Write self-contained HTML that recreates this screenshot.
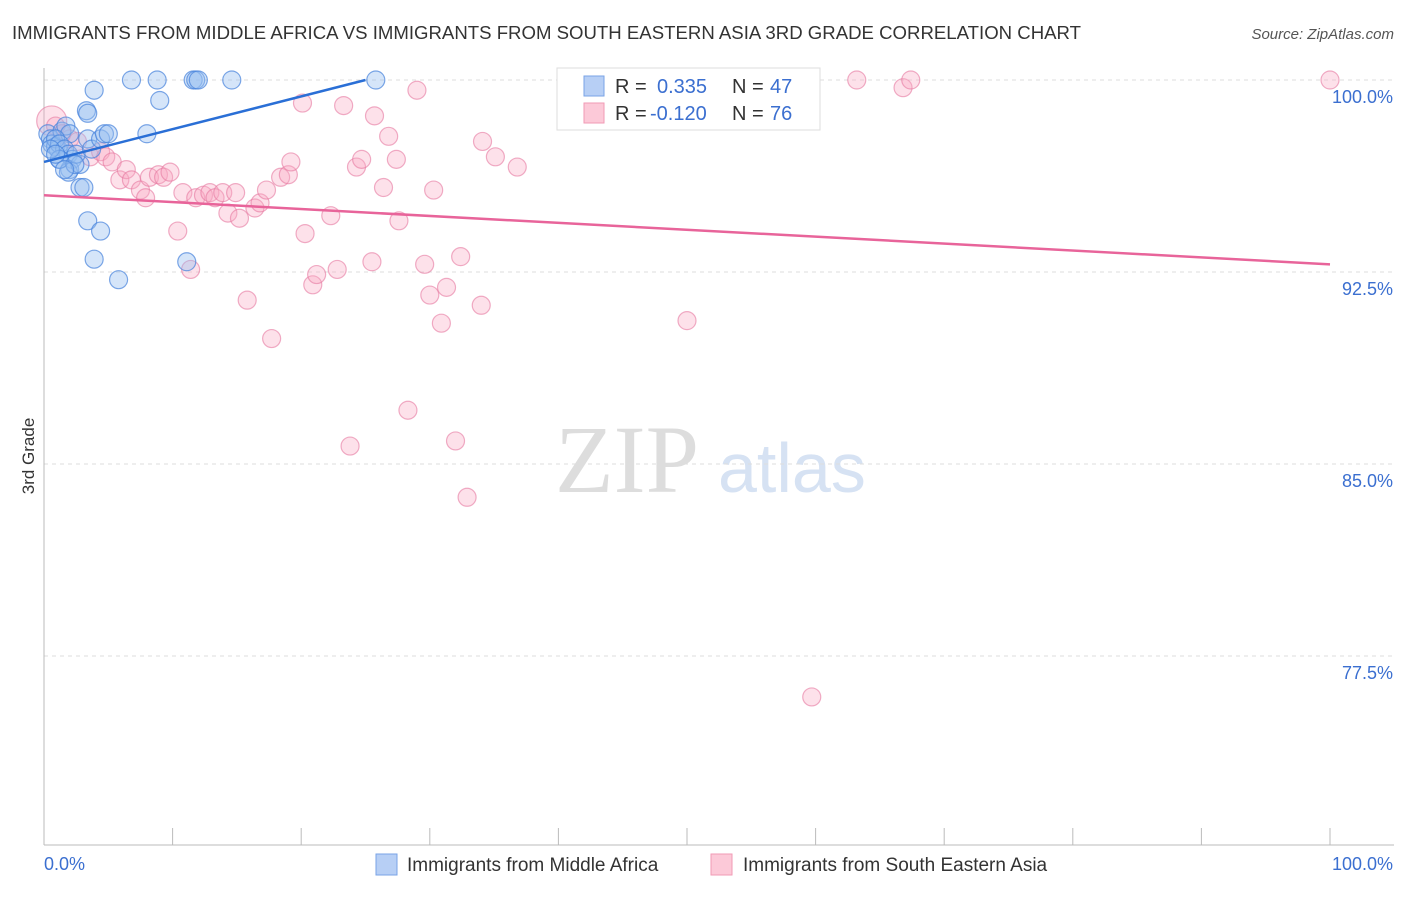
<!DOCTYPE html>
<html><head><meta charset="utf-8"><style>
body{margin:0;background:#fff;font-family:"Liberation Sans",sans-serif}
#wrap{position:relative;width:1406px;height:892px}
</style></head><body>
<div id="wrap">
<svg id="svg" width="1406" height="892">
<text x="12" y="39" font-size="18" fill="#333" textLength="1069" lengthAdjust="spacingAndGlyphs">IMMIGRANTS FROM MIDDLE AFRICA VS IMMIGRANTS FROM SOUTH EASTERN ASIA 3RD GRADE CORRELATION CHART</text>
<text x="1394" y="39" font-size="15" fill="#555" font-style="italic" text-anchor="end">Source: ZipAtlas.com</text>
<text x="34" y="456" font-size="17" fill="#333" transform="rotate(-90 34 456)" text-anchor="middle">3rd Grade</text>
<text x="555" y="492" font-size="96" fill="#ddd" font-family="Liberation Serif">ZIP</text>
<text x="718" y="492" font-size="70" fill="#d6e2f3">atlas</text>
<g id="grid"></g><g id="pts"></g><g id="lines"></g>
<g>
<rect x="557" y="68" width="263" height="62" fill="#fff" stroke="#ddd"/>
<rect x="584" y="76" width="20" height="20" fill="#b7cff5" stroke="#7aa3e6"/>
<rect x="584" y="103" width="20" height="20" fill="#fcc9d8" stroke="#f19ab5"/>
<text x="615" y="93" font-size="20" fill="#333">R = </text><text x="657" y="93" font-size="20" fill="#3b6fd0">0.335</text>
<text x="732" y="93" font-size="20" fill="#333">N = </text><text x="770" y="93" font-size="20" fill="#3b6fd0">47</text>
<text x="615" y="120" font-size="20" fill="#333">R = </text><text x="650" y="120" font-size="20" fill="#3b6fd0">-0.120</text>
<text x="732" y="120" font-size="20" fill="#333">N = </text><text x="770" y="120" font-size="20" fill="#3b6fd0">76</text>
</g>
<g>
<rect x="376" y="854" width="21" height="21" fill="#b7cff5" stroke="#7aa3e6"/>
<text x="407" y="871" font-size="19" fill="#333">Immigrants from Middle Africa</text>
<rect x="711" y="854" width="21" height="21" fill="#fcc9d8" stroke="#f19ab5"/>
<text x="743" y="871" font-size="19" fill="#333">Immigrants from South Eastern Asia</text>
</g>
</svg></div>
<script>
const yTicks=[100,92.5,85,77.5];
const yTickLabels=["100.0%","92.5%","85.0%","77.5%"];
const blueX=[0.3,0.5,0.6,0.9,1.1,1.4,1.7,2.0,0.9,1.2,1.6,1.9,2.2,1.2,2.0,1.9,2.8,2.5,2.8,3.1,3.4,3.7,4.4,4.7,5.0,3.3,3.4,3.9,6.8,8.8,11.6,11.8,12.0,14.6,25.8,9.0,8.0,3.4,4.4,3.9,5.8,11.1,1.2,2.4,0.5,0.9,1.6];
const blueY=[97.9,97.7,97.5,97.4,97.3,98.0,98.2,97.9,97.7,97.5,97.3,97.1,96.9,96.9,96.5,96.4,96.7,97.1,95.8,95.8,97.7,97.3,97.7,97.9,97.9,98.8,98.7,99.6,100,100,100,100,100,100,100,99.2,97.9,94.5,94.1,93.0,92.2,92.9,96.9,96.7,97.3,97.1,96.5];
const pinkX=[0.6,0.9,1.4,2.0,2.6,3.6,4.4,4.8,5.3,5.9,6.4,6.8,7.5,7.9,8.2,8.9,9.3,9.8,10.4,10.8,11.4,11.8,12.4,12.9,13.3,13.9,14.3,14.9,15.2,15.8,16.4,16.8,17.3,17.7,18.4,19.0,19.2,20.1,20.3,20.9,21.2,22.3,22.8,23.3,23.8,24.3,24.7,25.5,25.7,26.4,26.8,27.4,27.6,28.3,29.0,29.6,30.0,30.3,30.9,31.3,32.0,32.4,32.9,34.0,34.1,35.1,36.8,50.0,59.7,63.2,66.8,67.4,100];
const pinkY=[98.4,98.2,97.9,97.7,97.6,97.0,97.2,97.0,96.8,96.1,96.5,96.1,95.7,95.4,96.2,96.3,96.2,96.4,94.1,95.6,92.6,95.4,95.5,95.6,95.4,95.6,94.8,95.6,94.6,91.4,95.0,95.2,95.7,89.9,96.2,96.3,96.8,99.1,94.0,92.0,92.4,94.7,92.6,99.0,85.7,96.6,96.9,92.9,98.6,95.8,97.8,96.9,94.5,87.1,99.6,92.8,91.6,95.7,90.5,91.9,85.9,93.1,83.7,91.2,97.6,97.0,96.6,90.6,75.9,100,99.7,100,100];
const blueTrend=[[0,96.8],[25,100]];
const pinkTrend=[[0,95.5],[100,92.8]];
const X=v=>44+v*12.86, Y=v=>80+(100-v)*25.6;
const NS="http://www.w3.org/2000/svg";
function mk(p,t,a){const e=document.createElementNS(NS,t);for(const k in a)e.setAttribute(k,a[k]);p.appendChild(e);return e;}
const grid=document.getElementById('grid'),svg=document.getElementById('svg');
yTicks.forEach((t,i)=>{
 const l=mk(grid,'line',{x1:44,x2:1394,y1:Y(t),y2:Y(t),stroke:'#ddd','stroke-dasharray':'4,4'});
 
 
 const tx=mk(grid,'text',{x:1393,y:Y(t)+23,'font-size':18,fill:'#3b6fd0','text-anchor':'end'});
 tx.textContent=yTickLabels[i];
 
 
});
mk(grid,'line',{x1:44,x2:44,y1:68,y2:845,stroke:'#bbb'});
mk(grid,'line',{x1:44,x2:1394,y1:845,y2:845,stroke:'#bbb'});
for(let i=0;i<=10;i++){const t=mk(grid,'line',{x1:X(i*10),x2:X(i*10),y1:828,y2:845,stroke:'#bbb'});
 
 }
const x0=mk(grid,'text',{x:44,y:870,'font-size':18,fill:'#3b6fd0'});x0.textContent='0.0%';


const x1=mk(grid,'text',{x:1393,y:870,'font-size':18,fill:'#3b6fd0','text-anchor':'end'});x1.textContent='100.0%';


const pts=document.getElementById('pts');
pinkX.forEach((v,i)=>{const c=mk(pts,'circle',{cx:X(v),cy:Y(pinkY[i]),r:i==0?15:9,fill:'rgba(248,170,195,0.35)',stroke:'rgba(230,120,160,0.6)','stroke-width':1.2});
 
 });
blueX.forEach((v,i)=>{const c=mk(pts,'circle',{cx:X(v),cy:Y(blueY[i]),r:9,fill:'rgba(150,190,240,0.4)',stroke:'rgba(70,130,220,0.7)','stroke-width':1.2});
 
 });
const lines=document.getElementById('lines');
const bl=mk(lines,'line',{x1:X(blueTrend[0][0]),y1:Y(blueTrend[0][1]),x2:X(blueTrend[1][0]),y2:Y(blueTrend[1][1]),stroke:'#2a6fd6','stroke-width':2.5});


const pl=mk(lines,'line',{x1:X(pinkTrend[0][0]),y1:Y(pinkTrend[0][1]),x2:X(pinkTrend[1][0]),y2:Y(pinkTrend[1][1]),stroke:'#e8649a','stroke-width':2.5});


</script>
</body></html>
